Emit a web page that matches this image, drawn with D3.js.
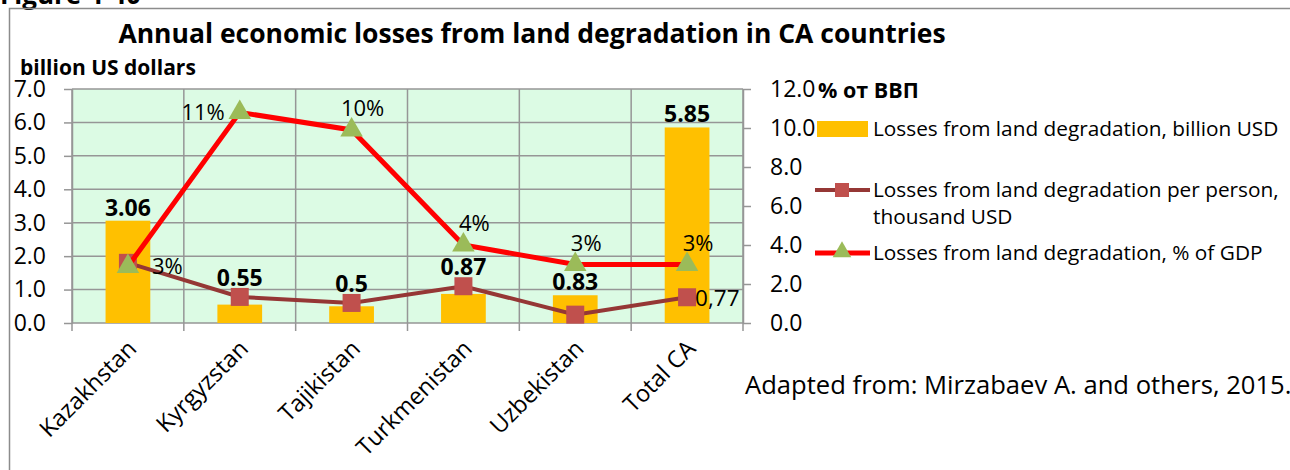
<!DOCTYPE html>
<html>
<head>
<meta charset="utf-8">
<script src="https://cdn.jsdelivr.net/npm/d3@7"></script>
<style>
  body { margin: 0; background: #fff; }
  svg { display: block; font-family: 'Open Sans', sans-serif; }
</style>
</head>
<body>
<svg width="1290" height="470"></svg>
<script>
// chart data
var countries = ['Kazakhstan', 'Kyrgyzstan', 'Tajikistan', 'Turkmenistan', 'Uzbekistan', 'Total CA'];
var lossesBillion = [3.06, 0.55, 0.5, 0.87, 0.83, 5.85];
var lossesPerPerson = [1.8, 0.78, 0.6, 1.1, 0.25, 0.77];
var perPersonLabels = [null, null, null, null, null, '0,77'];
var lossesPctGdp = [2.9, 10.8, 9.9, 4.0, 3.0, 3.0];
var leftTicks = [0, 1, 2, 3, 4, 5, 6, 7];
var rightTicks = [0, 2, 4, 6, 8, 10, 12];
var legendLabels = [
    ['Losses from land degradation, billion USD'],
    ['Losses from land degradation per person,', 'thousand USD'],
    ['Losses from land degradation, % of GDP']
];

document.addEventListener('DOMContentLoaded', function () {
    drawChart();
});

function drawChart() {
    const svg = d3.select('svg');
    const plot = { left: 72, right: 743, top: 89, bottom: 323 };

    const gridColor = '#969696';
    const barColor = '#FFC000';
    const brown = '#953735';
    const squareColor = '#C0504D';
    const red = '#FF0000';
    const triColor = '#9BBB59';

    // figure label, cut by the top edge
    svg.append('text')
        .attr('x', 0).attr('y', 4)
        .attr('font-weight', 'bold').attr('font-size', 26)
        .text('Figure 4-40');

    // outer frame
    svg.append('rect')
        .attr('x', 9.5).attr('y', 8.5)
        .attr('width', 1300).attr('height', 500)
        .attr('fill', 'none').attr('stroke', '#8c8c8c').attr('stroke-width', 1.5);

    svg.append('text')
        .attr('x', 532).attr('y', 43)
        .attr('text-anchor', 'middle')
        .attr('font-weight', 'bold').attr('font-size', 26.5)
        .text('Annual economic losses from land degradation in CA countries');

    svg.append('text')
        .attr('x', 20).attr('y', 75)
        .attr('font-weight', 'bold').attr('font-size', 21)
        .text('billion US dollars');

    svg.append('text')
        .attr('x', 818).attr('y', 98)
        .attr('font-weight', 'bold').attr('font-size', 21.5)
        .text('% от ВВП');

    const xScale = d3.scaleBand()
        .domain(countries)
        .range([plot.left, plot.right]);
    const barScale = d3.scaleBand()
        .domain(countries)
        .range([plot.left, plot.right])
        .paddingInner(0.6)
        .paddingOuter(0.3);
    const yLeft = d3.scaleLinear().domain([0, 7]).range([plot.bottom, plot.top]);
    const yRight = d3.scaleLinear().domain([0, 12]).range([plot.bottom, plot.top]);
    const cx = c => xScale(c) + xScale.bandwidth() / 2;

    // plot background
    svg.append('rect')
        .attr('x', plot.left).attr('y', plot.top)
        .attr('width', plot.right - plot.left).attr('height', plot.bottom - plot.top)
        .attr('fill', '#DCFBE4');

    // gridlines
    svg.append('g').selectAll('line')
        .data(leftTicks)
        .join('line')
        .attr('x1', plot.left).attr('x2', plot.right)
        .attr('y1', d => yLeft(d)).attr('y2', d => yLeft(d))
        .attr('stroke', gridColor).attr('stroke-width', 1.5);

    const bounds = countries.map(c => xScale(c)).concat([plot.right]);
    svg.append('g').selectAll('line')
        .data(bounds)
        .join('line')
        .attr('x1', d => d).attr('x2', d => d)
        .attr('y1', plot.top).attr('y2', plot.bottom + 8)
        .attr('stroke', gridColor).attr('stroke-width', 1.5);

    // left axis
    const leftAxis = d3.axisLeft(yLeft)
        .tickValues(leftTicks)
        .tickFormat(d3.format('.1f'))
        .tickSize(8).tickSizeOuter(0).tickPadding(18);
    const gl = svg.append('g')
        .attr('transform', `translate(${plot.left},0)`)
        .call(leftAxis);

    // right axis
    const rightAxis = d3.axisRight(yRight)
        .tickValues(rightTicks)
        .tickFormat(d3.format('.1f'))
        .tickSize(8).tickSizeOuter(0).tickPadding(19);
    const gr = svg.append('g')
        .attr('transform', `translate(${plot.right},0)`)
        .call(rightAxis);

    [gl, gr].forEach(g => {
        g.attr('font-family', null).attr('font-size', 23);
        g.selectAll('path, line').attr('stroke', gridColor).attr('stroke-width', 1.5);
        g.selectAll('text').attr('fill', '#000');
    });

    // category labels
    svg.append('g').selectAll('text')
        .data(countries)
        .join('text')
        .attr('transform', d => `translate(${cx(d) + 10},${plot.bottom + 27}) rotate(-45)`)
        .attr('text-anchor', 'end')
        .attr('font-size', 23.5)
        .text(d => d);

    // bars
    svg.append('g').selectAll('rect')
        .data(lossesBillion)
        .join('rect')
        .attr('x', (d, i) => barScale(countries[i]))
        .attr('width', barScale.bandwidth())
        .attr('y', d => yLeft(d))
        .attr('height', d => plot.bottom - yLeft(d))
        .attr('fill', barColor);

    // per person line
    const linePerson = d3.line()
        .x((d, i) => cx(countries[i]))
        .y(d => yLeft(d));
    svg.append('path')
        .datum(lossesPerPerson)
        .attr('d', linePerson)
        .attr('fill', 'none').attr('stroke', brown).attr('stroke-width', 4);
    svg.append('g').selectAll('rect')
        .data(lossesPerPerson)
        .join('rect')
        .attr('x', (d, i) => cx(countries[i]) - 9)
        .attr('y', d => yLeft(d) - 9)
        .attr('width', 18).attr('height', 18)
        .attr('fill', squareColor);

    // % of GDP line
    const linePct = d3.line()
        .x((d, i) => cx(countries[i]))
        .y(d => yRight(d));
    svg.append('path')
        .datum(lossesPctGdp)
        .attr('d', linePct)
        .attr('fill', 'none').attr('stroke', red).attr('stroke-width', 5);
    const tri = d3.symbol(d3.symbolTriangle).size(220);
    svg.append('g').selectAll('path')
        .data(lossesPctGdp)
        .join('path')
        .attr('transform', (d, i) => `translate(${cx(countries[i])},${yRight(d)})`)
        .attr('d', tri)
        .attr('fill', triColor);

    // bar value labels
    svg.append('g').selectAll('text')
        .data(lossesBillion)
        .join('text')
        .attr('x', (d, i) => cx(countries[i]))
        .attr('y', (d, i) => Math.min(yLeft(d) - 13, yLeft(lossesPerPerson[i]) - 19) + 8)
        .attr('text-anchor', 'middle')
        .attr('font-weight', 'bold').attr('font-size', 23)
        .text(d => d);

    // % labels, placed like the original
    const pctSide = ['right', 'left', 'above', 'above', 'above', 'above'];
    svg.append('g').selectAll('text')
        .data(lossesPctGdp)
        .join('text')
        .attr('x', (d, i) => {
            const x = cx(countries[i]);
            if (pctSide[i] == 'right') return x + 24;
            if (pctSide[i] == 'left') return x - 15;
            return x + 11;
        })
        .attr('y', (d, i) => {
            const y = yRight(d);
            if (pctSide[i] == 'above') return y - 14;
            return y + 8;
        })
        .attr('text-anchor', (d, i) => pctSide[i] == 'right' ? 'start' : (pctSide[i] == 'left' ? 'end' : 'middle'))
        .attr('font-size', 22)
        .text(d => d3.format('.0f')(d) + '%');

    // per person labels
    svg.append('g').selectAll('text')
        .data(lossesPerPerson)
        .join('text')
        .attr('x', (d, i) => cx(countries[i]) + 8)
        .attr('y', d => yLeft(d) + 9)
        .attr('font-size', 22.5)
        .text((d, i) => perPersonLabels[i] || '');

    // legend
    const lg = svg.append('g').attr('font-size', 20.8);
    lg.append('rect')
        .attr('x', 817).attr('y', 121).attr('width', 51).attr('height', 16)
        .attr('fill', barColor);
    lg.append('line')
        .attr('x1', 815).attr('x2', 870).attr('y1', 190).attr('y2', 190)
        .attr('stroke', brown).attr('stroke-width', 4);
    lg.append('rect')
        .attr('x', 835).attr('y', 183).attr('width', 14).attr('height', 14)
        .attr('fill', squareColor);
    lg.append('line')
        .attr('x1', 815).attr('x2', 870).attr('y1', 253).attr('y2', 253)
        .attr('stroke', red).attr('stroke-width', 5);
    lg.append('path')
        .attr('transform', 'translate(842,252)')
        .attr('d', d3.symbol(d3.symbolTriangle).size(150))
        .attr('fill', triColor);

    const legendY = [129, 190, 253];
    legendLabels.forEach((lines, i) => {
        const t = lg.append('text')
            .attr('x', 873).attr('y', legendY[i] + 7);
        lines.forEach((s, j) => {
            t.append('tspan').attr('x', 873).attr('dy', j == 0 ? 0 : 27).text(s);
        });
    });

    svg.append('text')
        .attr('x', 745).attr('y', 394)
        .attr('font-size', 25.6)
        .text('Adapted from: Mirzabaev A. and others, 2015.');
}
</script>
</body>
</html>
